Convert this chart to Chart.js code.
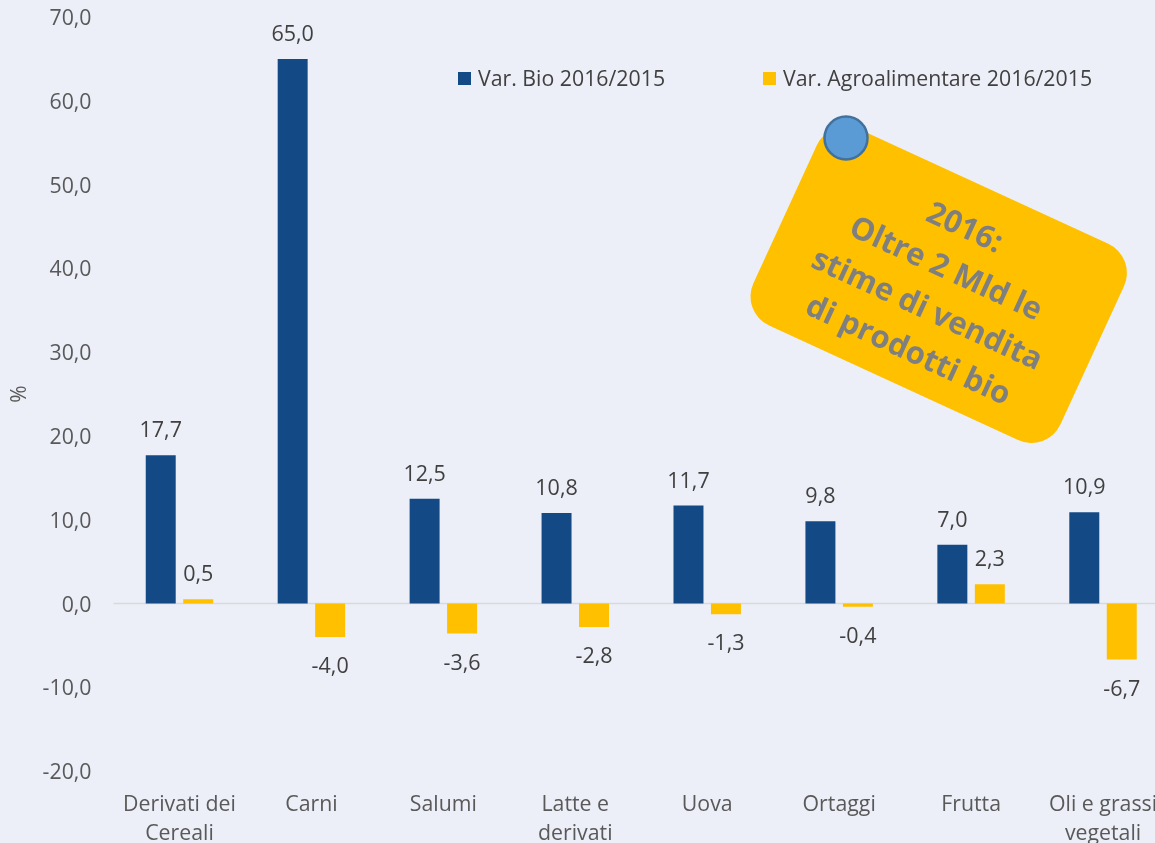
<!DOCTYPE html>
<html><head><meta charset="utf-8">
<style>html,body{margin:0;padding:0;background:#ECEFF8;overflow:hidden;width:1155px;height:843px}canvas{display:block}</style>
<script src="https://cdn.jsdelivr.net/npm/chart.js@4"></script></head>
<body><canvas id="c" width="1169" height="843" style="width:1169px;height:843px"></canvas>
<script>
const categories=[["Derivati dei","Cereali"],"Carni","Salumi",["Latte e","derivati"],"Uova","Ortaggi","Frutta",["Oli e grassi","vegetali"]];
const bioValues=[17.7,65.0,12.5,10.8,11.7,9.8,7.0,10.9];
const agroValues=[0.5,-4.0,-3.6,-2.8,-1.3,-0.4,2.3,-6.7];
const seriesNames=["Var. Bio 2016/2015","Var. Agroalimentare 2016/2015"];
const noteLines=["2016:","Oltre 2 Mld le","stime di vendita","di prodotti bio"];
const FONT='"Open Sans"';
const fmt=v=>v.toFixed(1).replace('.',',');
const ANGLE=24.7*Math.PI/180;
const labelPlugin={id:'labels',afterDatasetsDraw(ch){const c=ch.ctx;c.save();c.font='21.5px '+FONT;c.fillStyle='#404040';c.textAlign='center';c.textBaseline='middle';
 ch.data.datasets.forEach((d,i)=>{ch.getDatasetMeta(i).data.forEach((b,j)=>{const v=d.data[j];c.fillText(fmt(v),b.x,v>=0?b.y-24:b.y+30);});});c.restore();}};
const notePlugin={id:'note',afterDraw(ch){const c=ch.ctx;c.save();
 c.translate(938.7,284.7);c.rotate(ANGLE);
 c.fillStyle='#FFC000';c.beginPath();c.roundRect(-169,-108,338,216,32);c.fill();c.restore();
 c.save();c.beginPath();c.arc(846,138,21.5,0,2*Math.PI);c.fillStyle='#5B9BD5';c.fill();c.lineWidth=2.5;c.strokeStyle='#41719C';c.stroke();c.restore();
 c.save();c.translate(936,290);c.rotate(ANGLE);c.font='bold 31px '+FONT;c.fillStyle='#7F7F7F';c.textAlign='center';c.textBaseline='middle';
 noteLines.forEach((t,i)=>c.fillText(t,0,-67.5+i*45));c.restore();}};
const legendPlugin={id:'leg',afterDraw(ch){const c=ch.ctx;c.save();c.font='21.3px '+FONT;c.textBaseline='middle';c.textAlign='left';
 c.fillStyle='#134A86';c.fillRect(458,72,13,13);c.fillStyle='#FFC000';c.fillRect(763,72,13,13);
 c.fillStyle='#404040';c.fillText(seriesNames[0],478,80);c.fillText(seriesNames[1],783,80);c.restore();}};
const nudgePlugin={id:'nudge',beforeDraw(ch){ch.scales.y.getLabelItems().forEach(i=>{if(!i.options._n){i.options.translation[1]+=2;i.options._n=1;}});}};
new Chart(document.getElementById('c'),{type:'bar',
 data:{labels:categories,datasets:[
  {label:seriesNames[0],data:bioValues,backgroundColor:'#134A86',categoryPercentage:0.568,barPercentage:0.8},
  {label:seriesNames[1],data:agroValues,backgroundColor:'#FFC000',categoryPercentage:0.568,barPercentage:0.8}]},
 options:{responsive:false,animation:false,
  layout:{padding:{top:17,right:0,bottom:0,left:0}},
  plugins:{legend:{display:false},tooltip:{enabled:false}},
  scales:{
   x:{position:'bottom',grid:{display:false},border:{display:false},ticks:{font:{family:FONT,size:21.3,lineHeight:1.36},color:'#595959',maxRotation:0,autoSkip:false,padding:11},afterFit(s){s.height=72;s.paddingLeft=0;s.paddingRight=0;}},
   y:{min:-20,max:70,grid:{display:false},border:{display:false},ticks:{stepSize:10,font:{family:FONT,size:21.3},color:'#595959',padding:14,callback:v=>fmt(v)},
      title:{display:true,text:'%',font:{family:FONT,size:21},color:'#595959',padding:{top:7,bottom:0}},afterFit(s){s.width=113.5;s.paddingTop=0;s.paddingBottom=0;}}}},
 plugins:[nudgePlugin,labelPlugin,legendPlugin,notePlugin,{id:'zero',beforeDatasetsDraw(ch){const c=ch.ctx,y=ch.scales.y.getPixelForValue(0);c.save();c.strokeStyle='#D9D9D9';c.lineWidth=1.5;c.beginPath();c.moveTo(ch.chartArea.left,y);c.lineTo(ch.chartArea.right,y);c.stroke();c.restore();}}]
});
</script></body></html>
